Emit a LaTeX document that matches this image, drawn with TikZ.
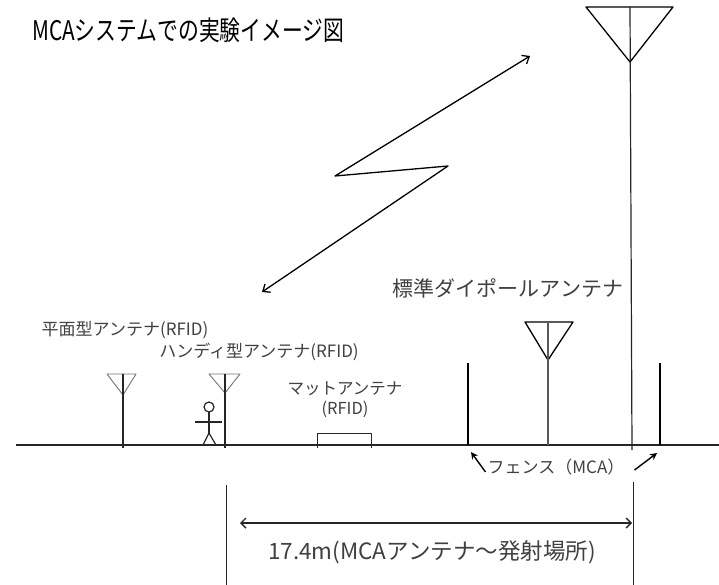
\documentclass[tikz,border=0pt]{standalone}
\usepackage{fontspec}
\setmainfont{Noto Sans CJK JP}
\usetikzlibrary{arrows.meta}

\begin{document}
\begin{tikzpicture}[
  x=1pt, y=-1pt,
  line join=round,
  >=Stealth,
  ground/.style={line width=1.5pt, draw=black!85},
  mast/.style={line width=1.2pt, draw=black!85},
  dish/.style={line width=1.3pt, draw=black},
  small/.style={line width=0.9pt, draw=black!55},
  post/.style={line width=2.2pt, draw=black},
  lab/.style={text=black!75, inner sep=0pt, font=\fontsize{17}{19}\selectfont},
  bolt/.style={{Straight Barb[length=6pt,width=10pt]}-{Straight Barb[length=6pt,width=10pt]}, line width=1.3pt},
  dim/.style={{Straight Barb[length=5pt,width=10pt]}-{Straight Barb[length=5pt,width=10pt]}, line width=1.4pt, draw=black!85},
  pointer/.style={-{Stealth[length=7pt,width=7pt]}, line width=1.4pt}
]
  \useasboundingbox (0,0) rectangle (719,585);

  \node[anchor=west, inner sep=0pt, font=\fontsize{27}{27}\selectfont] (title) at (32,30)
    {\scalebox{0.77}[1]{MCAシステムでの実験イメージ図}};

  % ground line
  \draw[ground] (16,445) -- (719,445);

  % MCA antenna (top right) and its mast
  \coordinate (mcaTop) at (630,7);
  \coordinate (mcaTip) at (630,62);
  \coordinate (mcaFoot) at (632,450);
  \draw[dish] (586,7) -- (673,7) -- (mcaTip) -- cycle;
  \draw[mast] (mcaTop) -- (mcaFoot);

  % standard dipole
  \draw[dish] (525,322) -- (573,322) -- (548,360) -- cycle;
  \draw[mast, draw=black!65] (548,322) -- (548,445);
  \node[lab, font=\fontsize{21}{23}\selectfont] (dipole) at (508,288) {標準ダイポールアンテナ};

  % fence posts
  \draw[post] (468,363) -- (468,445);
  \draw[post, line width=1.6pt] (660,363) -- (660,445);

  % flat antenna
  \draw[small] (107,374) -- (136,374) -- (123,395) -- cycle;
  \draw[mast] (123,374) -- (123,448);
  \node[lab] (flat) at (125,330) {平面型アンテナ(RFID)};

  % handy antenna with person
  \draw[small] (209,374) -- (240,374) -- (225,393) -- cycle;
  \draw[mast] (225,374) -- (225,448);
  \node[lab] (handy) at (259,352) {ハンディ型アンテナ(RFID)};
  \draw[mast] (209,407) circle (5);
  \draw[mast] (209,412) -- (209,433);
  \draw[mast] (195,422) -- (222,422);
  \draw[mast] (203,445) -- (209,433) -- (216,445);

  % mat antenna
  \draw[mast, line width=1pt] (317,448) -- (317,433) -- (371,433) -- (371,448);
  \node[lab, align=center, font=\fontsize{16.5}{20}\selectfont] (mat) at (345,400) {マットアンテナ\\(RFID)};

  % radio link
  \coordinate (linkA) at (530,56);
  \coordinate (linkB) at (335,176);
  \coordinate (linkC) at (448,166);
  \coordinate (linkD) at (262,292);
  \draw[bolt] (linkA) -- (linkB) -- (linkC) -- (linkD);

  % fence label and pointers
  \node[lab, font=\fontsize{17}{19}\selectfont] (fence) at (556,467) {フェンス（MCA）};
  \coordinate (fenceL) at (471,452);
  \coordinate (fenceR) at (657,453);
  \draw[pointer] (fence.west) ++(-2,5) -- (fenceL);
  \draw[pointer] (fence.east) ++(10,3) -- (fenceR);

  % distance
  \coordinate (dimL) at (240,523);
  \coordinate (dimR) at (632,523);
  \draw[mast, line width=1pt] (226,485) -- (226,585);
  \draw[mast, line width=1pt] (633,482) -- (633,585);
  \draw[dim] (dimL) -- (dimR);
  \node[lab, font=\fontsize{22.5}{24}\selectfont] (dist) at (432,552) {17.4m(MCAアンテナ〜発射場所)};
\end{tikzpicture}
\end{document}
